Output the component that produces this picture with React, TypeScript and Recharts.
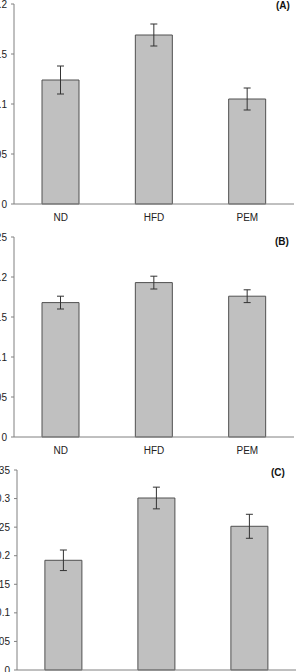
import React from "react";
import { BarChart, Bar, XAxis, YAxis, ErrorBar } from "recharts";

const categories = ["ND", "HFD", "PEM"];

const aValues = [0.124, 0.169, 0.105];
const aErrors = [0.014, 0.011, 0.011];
const aTicks = [0, 0.05, 0.1, 0.15, 0.2];

const bValues = [0.168, 0.193, 0.176];
const bErrors = [0.008, 0.008, 0.008];
const bTicks = [0, 0.05, 0.1, 0.15, 0.2, 0.25];

const cValues = [0.192, 0.301, 0.2515];
const cErrors = [0.018, 0.019, 0.021];
const cTicks = [0, 0.05, 0.1, 0.15, 0.2, 0.25, 0.3, 0.35];

const edgeTicks = [0, 1, 2, 3];

const FONT = "'Liberation Sans', Arial, sans-serif";
const AXIS = "#808080";
const TEXT = "#222";

type PanelProps = {
  values: number[];
  errors: number[];
  ticks: number[];
  top: number;
  height: number;
  marginTop: number;
  marginBottom: number;
  yWidth: number;
  marginRight: number;
  label: string;
  labelX: number;
  labelY: number;
};

function Panel(p: PanelProps) {
  const data = categories.map((name, i) => ({
    name,
    value: p.values[i],
    err: p.errors[i],
  }));
  const max = p.ticks[p.ticks.length - 1];
  return (
    <div style={{ position: "absolute", left: 0, top: p.top, width: 301, height: p.height }}>
      <BarChart
        width={301}
        height={p.height}
        data={data}
        margin={{ top: p.marginTop, right: p.marginRight, bottom: p.marginBottom, left: 0 }}
        barCategoryGap="30%"
      >
        <XAxis
          xAxisId="cat"
          dataKey="name"
          height={1}
          tickLine={false}
          axisLine={{ stroke: AXIS }}
          tickSize={0}
          tickMargin={10}
          tick={{ fontSize: 10, fill: TEXT, fontFamily: FONT }}
        />
        <XAxis
          xAxisId="edge"
          type="number"
          domain={[0, 3]}
          ticks={edgeTicks}
          height={1}
          axisLine={false}
          tick={false}
          tickSize={4}
          tickLine={{ stroke: AXIS }}
        />
        <YAxis
          width={p.yWidth}
          domain={[0, max]}
          ticks={p.ticks}
          interval={0}
          tickSize={3}
          tickMargin={4}
          axisLine={{ stroke: AXIS }}
          tickLine={{ stroke: AXIS }}
          tick={{ fontSize: 10, fill: TEXT, fontFamily: FONT }}
        />
        <Bar
          xAxisId="cat"
          dataKey="value"
          fill="#c0c0c0"
          stroke="#505050"
          strokeWidth={1}
          isAnimationActive={false}
        >
          <ErrorBar dataKey="err" width={3.5} stroke="#333" strokeWidth={1} direction="y" />
        </Bar>
      </BarChart>
      <div
        style={{
          position: "absolute",
          left: p.labelX,
          top: p.labelY,
          fontFamily: FONT,
          fontWeight: "bold",
          fontSize: 10,
          color: "#111",
          lineHeight: "12px",
        }}
      >
        {p.label}
      </div>
    </div>
  );
}

export default function App() {
  return (
    <div
      style={{
        position: "absolute",
        left: 0,
        top: 0,
        width: 301,
        height: 672,
        overflow: "hidden",
        background: "#fff",
      }}
    >
      <Panel
        values={aValues}
        errors={aErrors}
        ticks={aTicks}
        top={0}
        height={230}
        marginTop={4}
        marginBottom={24}
        yWidth={14}
        marginRight={7}
        label="(A)"
        labelX={276}
        labelY={0}
      />
      <Panel
        values={bValues}
        errors={bErrors}
        ticks={bTicks}
        top={230}
        height={230}
        marginTop={7}
        marginBottom={21}
        yWidth={14}
        marginRight={7}
        label="(B)"
        labelX={275}
        labelY={6}
      />
      <Panel
        values={cValues}
        errors={cErrors}
        ticks={cTicks}
        top={458}
        height={230}
        marginTop={12}
        marginBottom={16}
        yWidth={17}
        marginRight={5}
        label="(C)"
        labelX={271}
        labelY={9}
      />
    </div>
  );
}
